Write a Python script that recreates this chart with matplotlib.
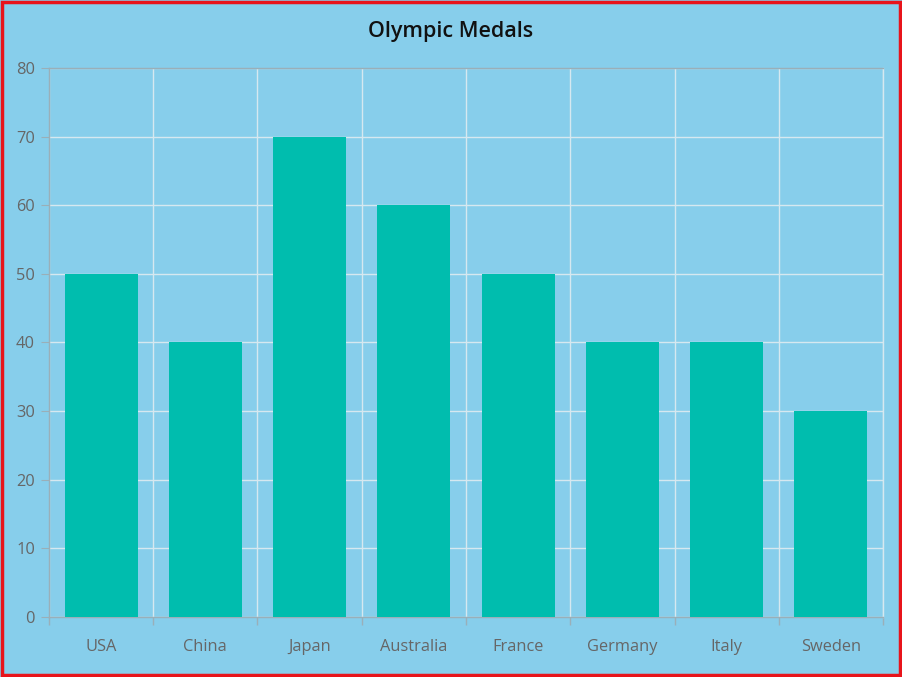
import matplotlib.pyplot as plt
from matplotlib.patches import Rectangle
import numpy as np

# Data
countries = ['USA', 'China', 'Japan', 'Australia', 'France', 'Germany', 'Italy', 'Sweden']
medals = [50, 40, 70, 60, 50, 40, 40, 30]

bg = '#87CEEB'
bar_color = '#00BDAE'
text_color = '#666666'
axis_color = '#9AAFB8'
grid_color = '#D6E8F0'

plt.rcParams['font.family'] = ['Open Sans', 'DejaVu Sans']

fig = plt.figure(figsize=(9.02, 6.77), dpi=100, facecolor=bg)
ax = fig.add_axes([0.0543, 0.0886, 0.9247, 0.811])
ax.set_facecolor(bg)

x = np.arange(len(countries))
ax.bar(x, medals, width=0.7, color=bar_color, zorder=3)

ax.set_xlim(-0.5, len(countries) - 0.5)
ax.set_ylim(0, 80)
ax.set_yticks(range(0, 81, 10))

# category labels centred, tick marks at the boundaries
ax.set_xticks(x)
ax.set_xticklabels(countries)
ax.tick_params(axis='x', length=0, pad=16, labelsize=11.8, labelcolor=text_color)
ax.set_xticks(np.arange(-0.5, len(countries)), minor=True)
ax.tick_params(axis='x', which='minor', length=6, color=axis_color, width=1)
ax.tick_params(axis='y', length=6, color=axis_color, labelsize=11.8, labelcolor=text_color, pad=4)

ax.grid(True, axis='y', color=grid_color, linewidth=1, zorder=0)
ax.grid(True, axis='x', which='minor', color=grid_color, linewidth=1, zorder=0)

for side in ['left', 'bottom', 'top']:
    ax.spines[side].set_color(axis_color)
    ax.spines[side].set_linewidth(1)
ax.spines['right'].set_color(grid_color)
ax.spines['right'].set_linewidth(1)

fig.text(0.5, 0.953, 'Olympic Medals', ha='center', va='center', fontsize=15.5,
         fontweight='semibold', color='#111111')

# red frame around the whole picture
fig.patches.append(Rectangle((0.002, 0.003), 0.996, 0.994, transform=fig.transFigure,
                             fill=False, edgecolor='#E8141B', linewidth=2.5))

fig.savefig('out.png', dpi=100, facecolor=bg)
